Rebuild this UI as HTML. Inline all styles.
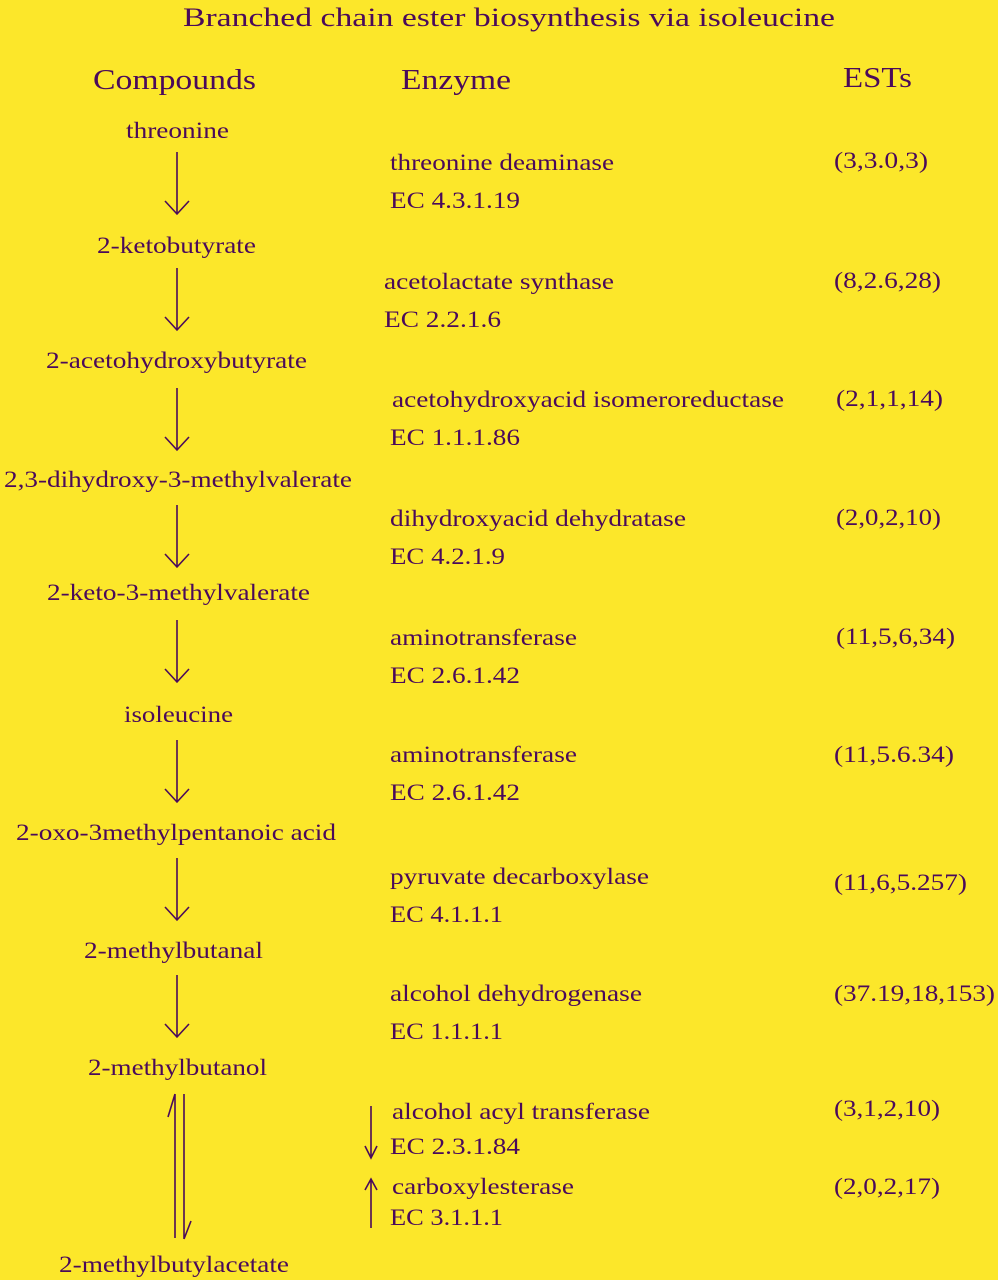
<!DOCTYPE html>
<html><head><meta charset="utf-8"><style>
html,body{margin:0;padding:0;background:#FCE72A;}
svg{display:block}
text{font-family:"Liberation Serif",serif;fill:#4a0a5a;}
</style></head><body>
<svg width="998" height="1280" viewBox="0 0 998 1280">
<rect width="998" height="1280" fill="#FCE72A"/>
<g font-size="26" lengthAdjust="spacingAndGlyphs">
<text x="183" y="26" textLength="652" lengthAdjust="spacingAndGlyphs">Branched chain ester biosynthesis via isoleucine</text>
</g>
<g font-size="29">
<text x="93" y="89" textLength="163" lengthAdjust="spacingAndGlyphs">Compounds</text>
<text x="401" y="89" textLength="110" lengthAdjust="spacingAndGlyphs">Enzyme</text>
<text x="843" y="87" textLength="69" lengthAdjust="spacingAndGlyphs">ESTs</text>
</g>
<g font-size="23">
<text x="126" y="138" textLength="103" lengthAdjust="spacingAndGlyphs">threonine</text>
<text x="97" y="253" textLength="159" lengthAdjust="spacingAndGlyphs">2-ketobutyrate</text>
<text x="46" y="368" textLength="261" lengthAdjust="spacingAndGlyphs">2-acetohydroxybutyrate</text>
<text x="4" y="487" textLength="348" lengthAdjust="spacingAndGlyphs">2,3-dihydroxy-3-methylvalerate</text>
<text x="47" y="600" textLength="263" lengthAdjust="spacingAndGlyphs">2-keto-3-methylvalerate</text>
<text x="124" y="722" textLength="109" lengthAdjust="spacingAndGlyphs">isoleucine</text>
<text x="16" y="840" textLength="320" lengthAdjust="spacingAndGlyphs">2-oxo-3methylpentanoic acid</text>
<text x="84" y="958" textLength="179" lengthAdjust="spacingAndGlyphs">2-methylbutanal</text>
<text x="88" y="1075" textLength="179" lengthAdjust="spacingAndGlyphs">2-methylbutanol</text>
<text x="59" y="1272" textLength="230" lengthAdjust="spacingAndGlyphs">2-methylbutylacetate</text>

<text x="390" y="170" textLength="224" lengthAdjust="spacingAndGlyphs">threonine deaminase</text><text x="390" y="208" textLength="130" lengthAdjust="spacingAndGlyphs">EC 4.3.1.19</text>
<text x="384" y="289" textLength="230" lengthAdjust="spacingAndGlyphs">acetolactate synthase</text><text x="384" y="327" textLength="117" lengthAdjust="spacingAndGlyphs">EC 2.2.1.6</text>
<text x="392" y="407" textLength="392" lengthAdjust="spacingAndGlyphs">acetohydroxyacid isomeroreductase</text><text x="390" y="445" textLength="130" lengthAdjust="spacingAndGlyphs">EC 1.1.1.86</text>
<text x="390" y="526" textLength="296" lengthAdjust="spacingAndGlyphs">dihydroxyacid dehydratase</text><text x="390" y="564" textLength="115" lengthAdjust="spacingAndGlyphs">EC 4.2.1.9</text>
<text x="390" y="645" textLength="187" lengthAdjust="spacingAndGlyphs">aminotransferase</text><text x="390" y="683" textLength="130" lengthAdjust="spacingAndGlyphs">EC 2.6.1.42</text>
<text x="390" y="762" textLength="187" lengthAdjust="spacingAndGlyphs">aminotransferase</text><text x="390" y="800" textLength="130" lengthAdjust="spacingAndGlyphs">EC 2.6.1.42</text>
<text x="390" y="884" textLength="259" lengthAdjust="spacingAndGlyphs">pyruvate decarboxylase</text><text x="390" y="922" textLength="113" lengthAdjust="spacingAndGlyphs">EC 4.1.1.1</text>
<text x="390" y="1001" textLength="252" lengthAdjust="spacingAndGlyphs">alcohol dehydrogenase</text><text x="390" y="1039" textLength="113" lengthAdjust="spacingAndGlyphs">EC 1.1.1.1</text>
<text x="392" y="1119" textLength="258" lengthAdjust="spacingAndGlyphs">alcohol acyl transferase</text><text x="390" y="1154" textLength="130" lengthAdjust="spacingAndGlyphs">EC 2.3.1.84</text>
<text x="392" y="1194" textLength="182" lengthAdjust="spacingAndGlyphs">carboxylesterase</text><text x="390" y="1225" textLength="113" lengthAdjust="spacingAndGlyphs">EC 3.1.1.1</text>

<text x="834" y="168" textLength="94" lengthAdjust="spacingAndGlyphs">(3,3.0,3)</text>
<text x="834" y="288" textLength="107" lengthAdjust="spacingAndGlyphs">(8,2.6,28)</text>
<text x="836" y="406" textLength="107" lengthAdjust="spacingAndGlyphs">(2,1,1,14)</text>
<text x="836" y="525" textLength="105" lengthAdjust="spacingAndGlyphs">(2,0,2,10)</text>
<text x="836" y="644" textLength="119" lengthAdjust="spacingAndGlyphs">(11,5,6,34)</text>
<text x="834" y="762" textLength="120" lengthAdjust="spacingAndGlyphs">(11,5.6.34)</text>
<text x="834" y="890" textLength="133" lengthAdjust="spacingAndGlyphs">(11,6,5.257)</text>
<text x="834" y="1001" textLength="161" lengthAdjust="spacingAndGlyphs">(37.19,18,153)</text>
<text x="834" y="1116" textLength="106" lengthAdjust="spacingAndGlyphs">(3,1,2,10)</text>
<text x="834" y="1194" textLength="106" lengthAdjust="spacingAndGlyphs">(2,0,2,17)</text>
</g>
<g stroke="#4a0a5a" stroke-width="1.6" fill="none">
<path d="M177 152V214M165 201L177 214L189 201"/>
<path d="M177 268V330M165 317L177 330L189 317"/>
<path d="M177 388V450M165 437L177 450L189 437"/>
<path d="M177 505V567M165 554L177 567L189 554"/>
<path d="M177 620V682M165 669L177 682L189 669"/>
<path d="M177 740V802M165 789L177 802L189 789"/>
<path d="M177 858V920M165 907L177 920L189 907"/>
<path d="M177 975V1037M165 1024L177 1037L189 1024"/>
<path d="M175 1094V1238M175 1094L168 1117"/>
<path d="M184 1094V1239M184 1239L191 1221"/>
<path d="M371 1106V1158M365 1146L371 1158L377 1146"/>
<path d="M371 1228V1179M365 1190L371 1179L377 1190"/>
</g>
</svg>
</body></html>
